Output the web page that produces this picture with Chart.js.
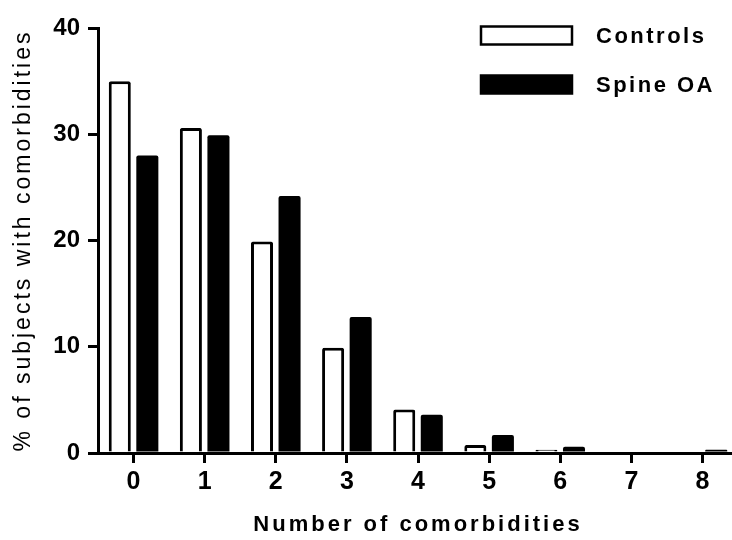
<!DOCTYPE html>
<html>
<head>
<meta charset="utf-8">
<script src="https://cdn.jsdelivr.net/npm/chart.js@4/dist/chart.umd.min.js"></script>
<style>
  html, body { margin: 0; padding: 0; background: #fff; overflow: hidden; }
  #wrap { width: 732px; height: 540px; overflow: hidden; }
</style>
</head>
<body>
<div id="wrap"><canvas id="myChart" width="740" height="540"></canvas></div>
<script>
const categories = ['0', '1', '2', '3', '4', '5', '6', '7', '8'];
const controls = [35.0, 30.6, 19.9, 9.9, 4.1, 0.75, 0.3, 0, 0];
const spineOA = [28.0, 29.9, 24.2, 12.8, 3.6, 1.7, 0.6, 0, 0.3];
const yTicks = [0, 10, 20, 30, 40];

const FONT = '"Liberation Sans", Arial, sans-serif';

// axis titles in the original are set wide, so space their letters out
const spacedTitles = {
  id: 'spacedTitles',
  beforeDraw(chart) {
    Object.values(chart.scales).forEach(scale => {
      if (scale._spaced) return;
      const orig = scale.drawTitle;
      scale.drawTitle = function () {
        this.ctx.letterSpacing = '3px';
        orig.call(this);
        this.ctx.letterSpacing = '0px';
      };
      scale._spaced = true;
    });
  }
};

// legend drawn in the top right corner, stacked like the original
const boxLegend = {
  id: 'boxLegend',
  afterDraw(chart) {
    const c = chart.ctx;
    const sets = chart.data.datasets;
    c.save();
    c.font = 'bold 22px ' + FONT;
    c.letterSpacing = '2.5px';
    c.textBaseline = 'middle';
    sets.forEach((ds, i) => {
      const y = 35.5 + i * 49;
      c.fillStyle = ds.backgroundColor;
      c.fillRect(481, y - 9, 91, 18);
      c.lineWidth = 2.5;
      c.strokeStyle = '#000';
      c.strokeRect(481, y - 9, 91, 18);
      c.fillStyle = '#000';
      c.fillText(ds.label, 596, y + 1);
    });
    c.letterSpacing = '0px';
    c.restore();
  }
};

const ctx = document.getElementById('myChart').getContext('2d');
const myChart = new Chart(ctx, {
  type: 'bar',
  data: {
    labels: categories,
    datasets: [{
      label: 'Controls',
      data: controls,
      backgroundColor: '#ffffff',
      borderColor: '#000000',
      borderWidth: 3,
      borderRadius: 2
    }, {
      label: 'Spine OA',
      data: spineOA,
      backgroundColor: '#000000',
      borderColor: '#000000',
      borderWidth: 0,
      borderRadius: 2
    }]
  },
  options: {
    responsive: false,
    animation: false,
    layout: { padding: { top: 28, right: 2, left: 0, bottom: 0 } },
    datasets: { bar: { categoryPercentage: 0.775, barPercentage: 0.8 } },
    plugins: {
      legend: { display: false },
      tooltip: { enabled: false }
    },
    scales: {
      x: {
        grid: { drawOnChartArea: false, offset: false, color: '#000', lineWidth: 3, tickLength: 10 },
        border: { color: '#000', width: 3 },
        ticks: { color: '#000', font: { family: FONT, size: 25, weight: 'bold' }, padding: 4 },
        title: {
          display: true,
          text: 'Number of comorbidities',
          color: '#000',
          font: { family: FONT, size: 22, weight: 'bold' },
          padding: { top: 10, bottom: 2 }
        },
        afterFit(scale) { scale.height = 87; }
      },
      y: {
        min: 0,
        max: 40,
        afterBuildTicks(scale) { scale.ticks = yTicks.map(v => ({ value: v })); },
        grid: { drawOnChartArea: false, color: '#000', lineWidth: 3, tickLength: 10 },
        border: { color: '#000', width: 3 },
        ticks: { color: '#000', font: { family: FONT, size: 24, weight: 'bold' }, padding: 8 },
        title: {
          display: true,
          text: '% of subjects with comorbidities',
          color: '#000',
          font: { family: FONT, size: 23 },
          padding: { top: 10, bottom: 4 }
        },
        afterFit(scale) { scale.width = 98; }
      }
    }
  },
  plugins: [spacedTitles, boxLegend]
});
</script>
</body>
</html>
